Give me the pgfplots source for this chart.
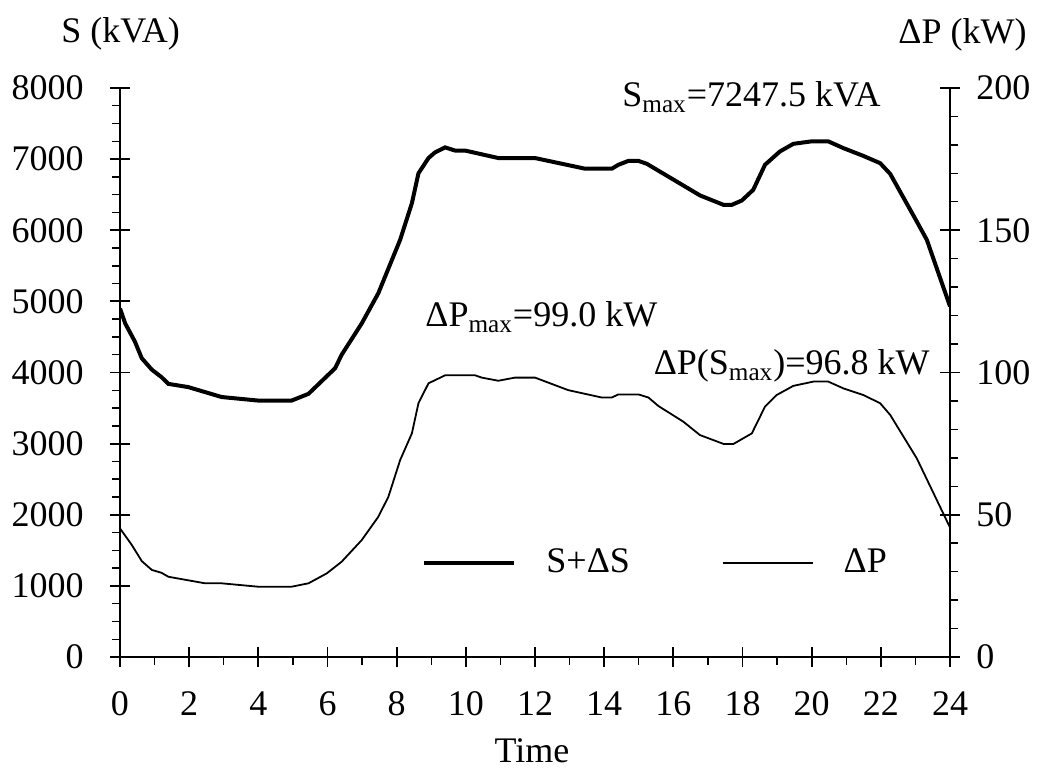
\documentclass[border=0pt]{standalone}
\usepackage{fontspec}
\setmainfont{Liberation Serif}
\usepackage{pgfplots}
\pgfplotsset{compat=1.18}

\pgfplotsset{
  chart/.style={
    width=415pt, height=284.5pt, scale only axis,
    xmin=0, xmax=24,
    tick align=center,
    major tick length=10pt, minor tick length=4pt,
    axis line style={line width=1pt, -},
    tick style={black, line width=0.9pt},
    minor tick style={line width=0.7pt},
    /pgf/number format/assume math mode=true,
    /pgf/number format/1000 sep={},
    scaled ticks=false,
    ticklabel style={font=\fontsize{18}{21}\selectfont},
  },
}

\begin{document}
\fontsize{18}{21}\selectfont
\begin{tikzpicture}
\useasboundingbox (-60pt,-56pt) rectangle (458.5pt,328.5pt);

% S + dS, left axis
\begin{axis}[chart,
    axis x line*=bottom, axis y line*=left,
    ymin=0, ymax=8000,
    ytick={0,1000,...,8000}, minor y tick num=3,
    xtick={0,2,...,24}, minor x tick num=1,
    minor x tick style={yshift=-2pt},
    minor y tick style={xshift=-2pt},
    yticklabel style={anchor=east, inner sep=0pt, xshift=-13pt},
    xticklabel style={anchor=base, inner sep=0pt, yshift=-24.5pt},
]
\addplot[black, line width=2pt] coordinates {
  (0,4900) (0.15,4690) (0.43,4435) (0.63,4200) (0.92,4040) (1.2,3935)
  (1.4,3840) (1.97,3795) (2.94,3655) (4.0,3605) (4.96,3605) (5.45,3700)
  (6.22,4060) (6.41,4250) (6.99,4690) (7.47,5115) (8.1,5865) (8.44,6380)
  (8.63,6800) (8.92,7015) (9.11,7095) (9.4,7165) (9.69,7120) (9.98,7120)
  (10.94,7015) (12.0,7015) (13.45,6865) (14.22,6865) (14.41,6920)
  (14.7,6975) (14.99,6975) (15.23,6935) (16.77,6490) (17.45,6357)
  (17.69,6357) (17.98,6418) (18.31,6568) (18.65,6920) (19.08,7107)
  (19.47,7215) (20.0,7250) (20.48,7250) (20.92,7154) (21.49,7046)
  (21.98,6943) (22.27,6793) (23.04,6122) (23.33,5865) (24,4930)
};
\end{axis}

% dP, right axis
\begin{axis}[chart,
    axis x line=none, axis y line*=right,
    ymin=0, ymax=200,
    ytick={0,50,...,200}, minor y tick num=4,
    minor y tick style={xshift=2pt},
    yticklabel style={anchor=west, inner sep=0pt, xshift=8pt},
    legend style={draw=none, fill=none, inner sep=0pt,
      at={(0.3639,0.1652)}, anchor=west, legend columns=2,
      nodes={inner sep=0pt},
      /tikz/every odd column/.append style={column sep=15pt},
      /tikz/every even column/.append style={column sep=46pt}},
    legend image code/.code={\draw[#1] (0pt,0pt) -- (45pt,0pt);},
]
\addlegendimage{black, line width=2pt}
\addlegendentry{S+ΔS}
\addplot[black, line width=0.9pt] coordinates {
  (0,45.2) (0.34,39.4) (0.63,33.7) (0.92,30.6) (1.2,29.6) (1.4,28.2)
  (2.46,25.9) (2.94,25.9) (4.0,24.7) (4.96,24.7) (5.45,25.9) (5.98,29.4)
  (6.41,33.5) (6.99,41.1) (7.47,49.3) (7.76,56.3) (8.1,69.2) (8.44,78.6)
  (8.63,89.2) (8.92,96.2) (9.4,99.0) (10.27,99.0) (10.46,98.2) (10.94,97.1)
  (11.42,98.2) (12.0,98.2) (12.96,93.8) (13.93,91.2) (14.22,91.2)
  (14.41,92.3) (14.99,92.3) (15.28,91.2) (15.57,88.2) (16.29,82.7)
  (16.77,78.0) (17.45,74.9) (17.74,74.9) (18.27,78.6) (18.65,88.0)
  (18.99,92.1) (19.47,95.3) (20.05,96.8) (20.48,96.8) (20.92,94.4)
  (21.49,92.1) (21.98,89.2) (22.27,85.1) (23.04,69.8) (24,45.5)
};
\addlegendentry{ΔP}
\end{axis}

% axis titles and annotations
\node[anchor=base west, inner sep=0pt] at (-29.5pt,307pt) {S (kVA)};
\node[anchor=base east, inner sep=0pt] at (453.5pt,306.5pt) {ΔP (kW)};
\node[anchor=base, inner sep=0pt] at (206pt,-53pt) {Time};
\node[anchor=base west, inner sep=0pt] at (251pt,275pt) {S\textsubscript{max}=7247.5 kVA};
\node[anchor=base west, inner sep=0pt] at (152.5pt,165pt) {ΔP\textsubscript{max}=99.0 kW};
\node[anchor=base east, inner sep=0pt] at (405pt,141pt) {ΔP(S\textsubscript{max})=96.8 kW};
\end{tikzpicture}
\end{document}
